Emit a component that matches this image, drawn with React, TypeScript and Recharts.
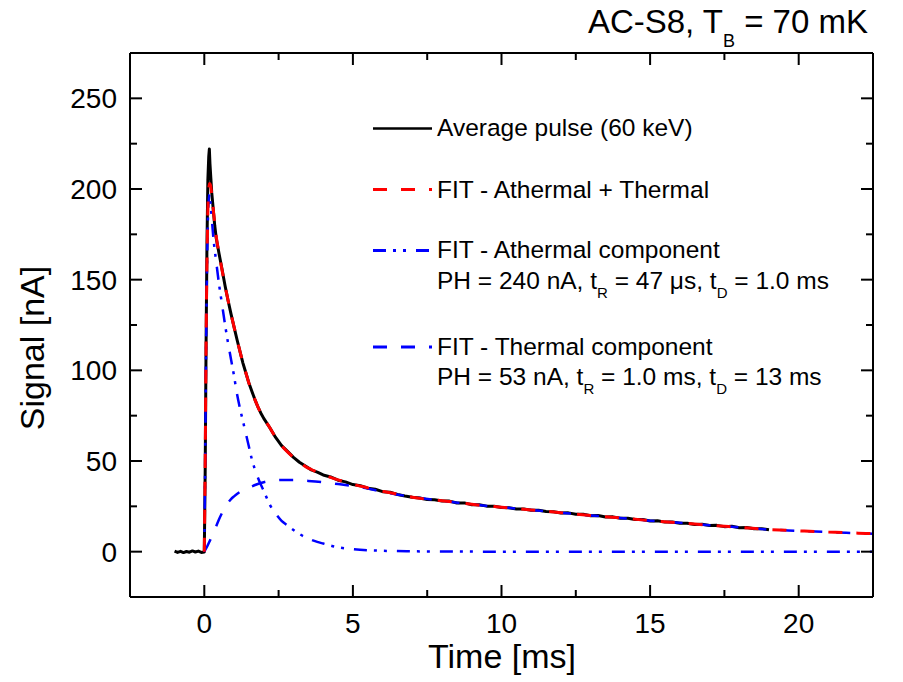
import React from 'react';
import { LineChart, Line, XAxis, YAxis, Legend, Label } from 'recharts';

// ---------- data ----------
const pulseTime = [
  -1.0, -0.9, -0.8, -0.7, -0.6, -0.5, -0.4, -0.3, -0.2, -0.1, 0.0,
  0.03, 0.06, 0.09, 0.12, 0.15, 0.17, 0.19, 0.22, 0.25, 0.3, 0.35, 0.4,
  0.5, 0.6, 0.7, 0.8, 0.9, 1.0, 1.1, 1.2, 1.3, 1.4, 1.5, 1.6, 1.7, 1.8, 1.9, 2.0,
  2.2, 2.4, 2.6, 2.8, 3.0, 3.2, 3.4, 3.6, 3.8, 4.0, 4.25, 4.5, 4.75, 5.0,
  5.25, 5.5, 5.75, 6.0, 6.25, 6.5, 6.75, 7.0, 7.25, 7.5, 7.75, 8.0,
  8.25, 8.5, 8.75, 9.0, 9.25, 9.5, 9.75, 10.0, 10.25, 10.5, 10.75, 11.0,
  11.25, 11.5, 11.75, 12.0, 12.25, 12.5, 12.75, 13.0, 13.25, 13.5, 13.75, 14.0,
  14.25, 14.5, 14.75, 15.0, 15.25, 15.5, 15.75, 16.0, 16.25, 16.5, 16.75, 17.0,
  17.25, 17.5, 17.75, 18.0, 18.25, 18.5, 18.75, 19.0,
];
const pulseSignal = [
  0.3, -0.4, 0.2, -0.5, 0.1, -0.3, 0.4, -0.2, 0.3, -0.4, -0.2,
  45, 115, 170, 205, 218, 222, 214, 206, 198, 189, 180, 173,
  164, 155.5, 146.5, 138.5, 131, 124, 117, 110.5, 104, 98.5, 93, 88.5, 84, 80, 76.5, 73.5,
  68.5, 63, 58.5, 55.3, 52, 49.3, 47.2, 45.1, 43.9, 42.3, 41.2, 39.4, 38.5, 37.0,
  36.4, 35.0, 34.4, 33.1, 32.8, 31.5, 30.7, 30.0, 29.6, 28.7, 28.6, 28.0,
  27.9, 26.8, 26.9, 25.9, 25.9, 25.1, 25.0, 24.3, 24.2, 23.5, 23.5, 22.8,
  22.8, 22.1, 22.0, 21.3, 21.4, 20.6, 20.6, 19.8, 19.9, 19.1, 19.2, 18.4,
  18.4, 17.7, 17.7, 16.9, 17.0, 16.3, 16.4, 15.7, 15.7, 15.0, 15.1, 14.4,
  14.5, 13.8, 14.0, 13.2, 13.3, 12.6, 12.7, 12.1,
];

const fitTime = [
  0.0, 0.03, 0.06, 0.09, 0.12, 0.15, 0.18, 0.21, 0.25, 0.3, 0.35, 0.4,
  0.5, 0.6, 0.7, 0.8, 0.9, 1.0, 1.1, 1.2, 1.3, 1.4, 1.5, 1.6, 1.7, 1.8, 1.9, 2.0,
  2.2, 2.4, 2.6, 2.8, 3.0, 3.2, 3.4, 3.6, 3.8, 4.0, 4.5, 5.0, 5.5, 6.0, 6.5,
  7.0, 7.5, 8.0, 9.0, 10.0, 11.0, 12.0, 13.0, 14.0, 15.0, 16.0, 17.0, 18.0,
  19.0, 20.0, 21.0, 22.0, 22.5,
];
const fitSignal = [
  0, 50, 115, 160, 188, 200, 203, 202, 197, 189, 181, 174,
  164, 155, 146.5, 138.5, 131, 124, 117, 110.5, 104, 98.5, 93, 88.5, 84, 80, 76.5, 73.5,
  68.5, 63, 58.5, 55, 52, 49.5, 47, 45.3, 43.8, 42.5, 39.6, 37.2, 35.2, 33.3, 31.7,
  30.0, 28.9, 28.1, 26.1, 24.5, 23.0, 21.5, 20.0, 18.6, 17.1, 15.9, 14.6, 13.4,
  12.2, 11.5, 10.8, 10.2, 9.9,
];

const athermalTime = [
  0.0, 0.03, 0.06, 0.09, 0.12, 0.15, 0.18, 0.21, 0.25, 0.3, 0.4, 0.5, 0.6, 0.7,
  0.8, 0.9, 1.0, 1.1, 1.2, 1.3, 1.4, 1.5, 1.6, 1.7, 1.8, 1.9, 2.0, 2.2, 2.4,
  2.6, 2.8, 3.0, 3.2, 3.4, 3.6, 3.8, 4.0, 4.5, 5.0, 5.5, 6.0, 7.0, 8.0, 10.0,
  15.0, 22.5,
];
const athermalSignal = [
  0, 50, 112, 155, 182, 194, 197, 192, 184, 174, 160, 147, 136, 125,
  115, 106, 97, 87, 79, 72, 65, 58, 51, 45.5, 41, 37, 33.5, 26, 21,
  17, 14.5, 12, 9.8, 7.9, 6.5, 5.4, 4.5, 2.4, 1.4, 0.8, 0.5, 0.2, 0.1, 0,
  0, 0,
];

const thermalTime = [
  0.0, 0.1, 0.2, 0.3, 0.4, 0.5, 0.6, 0.7, 0.8, 0.9, 1.0, 1.2, 1.4, 1.6, 1.8,
  2.0, 2.3, 2.6, 3.0, 3.5, 4.0, 4.5, 5.0, 5.5, 6.0, 7.0, 8.0, 9.0, 10.0, 11.0,
  12.0, 13.0, 14.0, 15.0, 16.0, 17.0, 18.0, 19.0, 20.0, 21.0, 22.0, 22.5,
];
const thermalSignal = [
  0, 3, 6.5, 10, 14, 18, 21.5, 24.5, 27, 29, 30.5, 33, 34.5, 36, 37.3,
  38.3, 39.2, 39.5, 39.5, 39, 38.3, 37.3, 36.2, 34.8, 33, 30.2, 28.1, 26.1, 24.5, 23.0,
  21.5, 20.0, 18.6, 17.1, 15.9, 14.6, 13.4, 12.2, 11.5, 10.8, 10.2, 9.9,
];

const xMajorTicks = [0, 5, 10, 15, 20];
const xMinorTicks = [2.5, 7.5, 12.5, 17.5];
const yMajorTicks = [0, 50, 100, 150, 200, 250];
const yMinorTicks = [25, 75, 125, 175, 225];
const xDomain = [-2.5, 22.5];
const yDomain = [-25, 275];

const toRows = (ts: number[], vs: number[]) => ts.map((t, i) => ({ t, v: vs[i] }));
const pulseRows = toRows(pulseTime, pulseSignal);
const fitRows = toRows(fitTime, fitSignal);
const athermalRows = toRows(athermalTime, athermalSignal);
const thermalRows = toRows(thermalTime, thermalSignal);

// ---------- styling ----------
const FONT = '"Liberation Sans", Arial, sans-serif';
const MAJOR = 12;
const MINOR = 7;
const BLUE = '#0000ff';
const RED = '#ff0000';

const isMajor = (v: number, majors: number[]) => majors.includes(v);

const BottomTick = (p: any) => {
  const { x, y, payload } = p;
  const major = isMajor(payload.value, xMajorTicks);
  return (
    <g>
      <line x1={x} y1={y} x2={x} y2={y - (major ? MAJOR : MINOR)} stroke="#000" strokeWidth={2} />
      {major && (
        <text x={x} y={y + 36} textAnchor="middle" fontSize={28} fontFamily={FONT} fill="#000">
          {payload.value}
        </text>
      )}
    </g>
  );
};

const TopTick = (p: any) => {
  const { x, y, payload } = p;
  const major = isMajor(payload.value, xMajorTicks);
  return <line x1={x} y1={y} x2={x} y2={y + (major ? MAJOR : MINOR)} stroke="#000" strokeWidth={2} />;
};

const LeftTick = (p: any) => {
  const { x, y, payload } = p;
  const major = isMajor(payload.value, yMajorTicks);
  return (
    <g>
      <line x1={x} y1={y} x2={x + (major ? MAJOR : MINOR)} y2={y} stroke="#000" strokeWidth={2} />
      {major && (
        <text x={x - 13} y={y + 10} textAnchor="end" fontSize={28} fontFamily={FONT} fill="#000">
          {payload.value}
        </text>
      )}
    </g>
  );
};

const RightTick = (p: any) => {
  const { x, y, payload } = p;
  const major = isMajor(payload.value, yMajorTicks);
  return <line x1={x} y1={y} x2={x - (major ? MAJOR : MINOR)} y2={y} stroke="#000" strokeWidth={2} />;
};

const Overlay = () => {
  const tx = 437;
  const lx1 = 373;
  const lx2 = 432;
  const txt = { fontSize: 24.5, fontFamily: FONT, fill: '#000' } as const;
  return (
    <svg width={903} height={682} style={{ display: 'block' }}>
      <text x={868} y={33} textAnchor="end" fontSize={33} fontFamily={FONT} fill="#000">
        AC-S8, T
        <tspan dy={14} fontSize={18}>B</tspan>
        <tspan dy={-14}> = 70 mK</tspan>
      </text>

      <line x1={lx1} y1={128.5} x2={lx2} y2={128.5} stroke="#000" strokeWidth={2.5} />
      <text x={tx} y={136} {...txt}>Average pulse (60 keV)</text>

      <line x1={lx1} y1={189.5} x2={lx2} y2={189.5} stroke={RED} strokeWidth={3} strokeDasharray="14 14" />
      <text x={tx} y={198} {...txt}>FIT - Athermal + Thermal</text>

      <line x1={lx1} y1={250.5} x2={lx2} y2={250.5} stroke={BLUE} strokeWidth={3} strokeDasharray="13 7 3 7 3 10" />
      <text x={tx} y={258} {...txt}>FIT - Athermal component</text>
      <text x={tx} y={288.5} {...txt}>
        PH = 240 nA, t<tspan dy={9} fontSize={15}>R</tspan>
        <tspan dy={-9}> = 47 μs, t</tspan>
        <tspan dy={9} fontSize={15}>D</tspan>
        <tspan dy={-9}> = 1.0 ms</tspan>
      </text>

      <line x1={lx1} y1={347} x2={lx2} y2={347} stroke={BLUE} strokeWidth={3} strokeDasharray="14 14" />
      <text x={tx} y={355} {...txt}>FIT - Thermal component</text>
      <text x={tx} y={385} {...txt}>
        PH = 53 nA, t<tspan dy={9} fontSize={15}>R</tspan>
        <tspan dy={-9}> = 1.0 ms, t</tspan>
        <tspan dy={9} fontSize={15}>D</tspan>
        <tspan dy={-9}> = 13 ms</tspan>
      </text>
    </svg>
  );
};

export default function App() {
  return (
    <div style={{ position: 'absolute', left: 0, top: 0, width: 903, height: 682, background: '#fff' }}>
      <LineChart width={903} height={682} margin={{ top: 52, right: 29, bottom: 0, left: 0 }}>
        <XAxis
          xAxisId="bottom"
          type="number"
          dataKey="t"
          domain={xDomain}
          allowDataOverflow
          ticks={[...xMajorTicks, ...xMinorTicks]}
          interval={0}
          tickSize={0}
          tickMargin={0}
          tickLine={false}
          tick={(p: any) => <BottomTick {...p} />}
          axisLine={{ stroke: '#000', strokeWidth: 2 }}
          height={85}
        >
          <Label
            content={() => (
              <text x={502} y={668} textAnchor="middle" fontSize={34} fontFamily={FONT} fill="#000">
                Time [ms]
              </text>
            )}
          />
        </XAxis>
        <XAxis
          xAxisId="top"
          orientation="top"
          type="number"
          dataKey="t"
          domain={xDomain}
          allowDataOverflow
          ticks={[...xMajorTicks, ...xMinorTicks]}
          interval={0}
          tickSize={0}
          tickMargin={0}
          tickLine={false}
          tick={(p: any) => <TopTick {...p} />}
          axisLine={{ stroke: '#000', strokeWidth: 2 }}
          height={1}
        />
        <YAxis
          yAxisId="left"
          type="number"
          domain={yDomain}
          allowDataOverflow
          ticks={[...yMajorTicks, ...yMinorTicks]}
          interval={0}
          tickSize={0}
          tickMargin={0}
          tickLine={false}
          tick={(p: any) => <LeftTick {...p} />}
          axisLine={{ stroke: '#000', strokeWidth: 2 }}
          width={130}
        >
          <Label
            content={() => (
              <text
                x={44}
                y={348}
                transform="rotate(-90, 44, 348)"
                textAnchor="middle"
                fontSize={34}
                fontFamily={FONT}
                fill="#000"
              >
                Signal [nA]
              </text>
            )}
          />
        </YAxis>
        <YAxis
          yAxisId="right"
          orientation="right"
          type="number"
          domain={yDomain}
          allowDataOverflow
          ticks={[...yMajorTicks, ...yMinorTicks]}
          interval={0}
          tickSize={0}
          tickMargin={0}
          tickLine={false}
          tick={(p: any) => <RightTick {...p} />}
          axisLine={{ stroke: '#000', strokeWidth: 2 }}
          width={1}
        />
        <Legend
          layout="horizontal"
          verticalAlign="middle"
          align="center"
          content={() => <Overlay />}
          wrapperStyle={{ position: 'absolute', left: 0, top: 0, width: 903, height: 682, pointerEvents: 'none' }}
        />
        {/* invisible series that binds the mirrored top/right axes of the frame */}
        <Line
          data={fitRows}
          dataKey="v"
          xAxisId="top"
          yAxisId="right"
          stroke="none"
          strokeWidth={0}
          dot={false}
          activeDot={false}
          legendType="none"
          isAnimationActive={false}
        />
        <Line
          data={pulseRows}
          dataKey="v"
          xAxisId="bottom"
          yAxisId="left"
          type="linear"
          stroke="#000"
          strokeWidth={3}
          strokeLinejoin="round"
          dot={false}
          isAnimationActive={false}
        />
        <Line
          data={thermalRows}
          dataKey="v"
          xAxisId="bottom"
          yAxisId="left"
          type="monotone"
          stroke={BLUE}
          strokeWidth={2.5}
          strokeDasharray="14 14"
          dot={false}
          isAnimationActive={false}
        />
        <Line
          data={athermalRows}
          dataKey="v"
          xAxisId="bottom"
          yAxisId="left"
          type="monotone"
          stroke={BLUE}
          strokeWidth={2.5}
          strokeDasharray="13 7 3 7 3 10"
          dot={false}
          isAnimationActive={false}
        />
        <Line
          data={fitRows}
          dataKey="v"
          xAxisId="bottom"
          yAxisId="left"
          type="monotone"
          stroke={RED}
          strokeWidth={3}
          strokeDasharray="14 14"
          dot={false}
          isAnimationActive={false}
        />
      </LineChart>
    </div>
  );
}
